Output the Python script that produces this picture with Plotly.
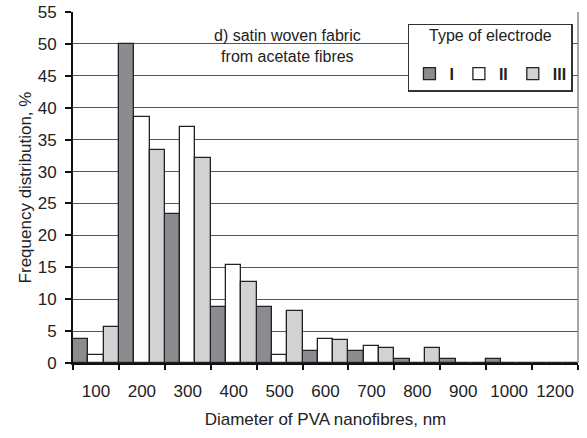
import plotly.graph_objects as go

categories = ["100", "200", "300", "400", "500", "600", "700", "800", "900", "1000", "1200"]
electrode_I = [3.8, 50.0, 23.3, 8.7, 8.7, 1.9, 1.9, 0.6, 0.6, 0.6, 0.0]
electrode_II = [1.2, 38.5, 37.0, 15.4, 1.2, 3.8, 2.7, 0.0, 0.0, 0.0, 0.0]
electrode_III = [5.6, 33.3, 32.1, 12.7, 8.1, 3.6, 2.3, 2.3, 0.0, 0.0, 0.0]
series_names = ["<b>I</b>", "<b>II</b>", "<b>III</b>"]
series_colors = ["#8c8c90", "#ffffff", "#d2d2d4"]

FONT = "Liberation Sans, Arial, sans-serif"

fig = go.Figure()
for name, vals, col in zip(series_names, [electrode_I, electrode_II, electrode_III], series_colors):
    fig.add_trace(go.Bar(
        x=categories, y=vals, name=name,
        marker=dict(color=col, line=dict(color="#222222", width=1.3)),
    ))

fig.update_layout(
    width=587, height=438,
    margin=dict(l=73, r=9, t=12, b=75, autoexpand=False),
    paper_bgcolor="white", plot_bgcolor="white",
    barmode="group", bargap=0, bargroupgap=0,
    font=dict(family=FONT, size=17, color="#222222"),
    showlegend=True,
    legend=dict(
        orientation="h",
        x=0.99, xanchor="right", y=0.966, yanchor="top",
        bgcolor="white", bordercolor="#333333", borderwidth=1.5,
        title=dict(text="<span style='font-size:16px'>Type of electrode</span><br> ",
                   side="top center", font=dict(size=12)),
        font=dict(size=16),
        traceorder="normal",
    ),
    xaxis=dict(
        type="category", range=[-0.5, 10.5], automargin=False, tickangle=0,
        tickson="boundaries", ticks="outside", ticklen=5, tickwidth=2, tickcolor="#111111",
        showline=True, linecolor="#111111", linewidth=2,
        showgrid=False, ticklabelstandoff=12,
        title=dict(text="Diameter of PVA nanofibres, nm", standoff=13, font=dict(size=17)),
        tickfont=dict(size=17),
    ),
    yaxis=dict(
        range=[0, 55], dtick=5, tick0=0, automargin=False,
        ticks="outside", ticklen=6, tickwidth=2, tickcolor="#111111",
        showline=True, linecolor="#111111", linewidth=2,
        showgrid=True, gridcolor="#555555", gridwidth=1,
        zeroline=False, ticklabelstandoff=5,
        title=dict(text="Frequency distribution, %", standoff=2, font=dict(size=17)),
        tickfont=dict(size=17),
    ),
    annotations=[dict(
        text="d) satin woven fabric<br>from acetate fibres",
        xref="paper", yref="paper", x=0.424, y=0.903, xanchor="center", yanchor="middle",
        showarrow=False, font=dict(size=16), align="center",
    )],
    shapes=[dict(type="line", xref="paper", yref="paper", x0=1, x1=1, y0=0, y1=1,
                 line=dict(color="#888888", width=1.5))],
)

fig.write_html("out.html", config={"displayModeBar": False},
               post_script="document.body.style.margin='0px';")
